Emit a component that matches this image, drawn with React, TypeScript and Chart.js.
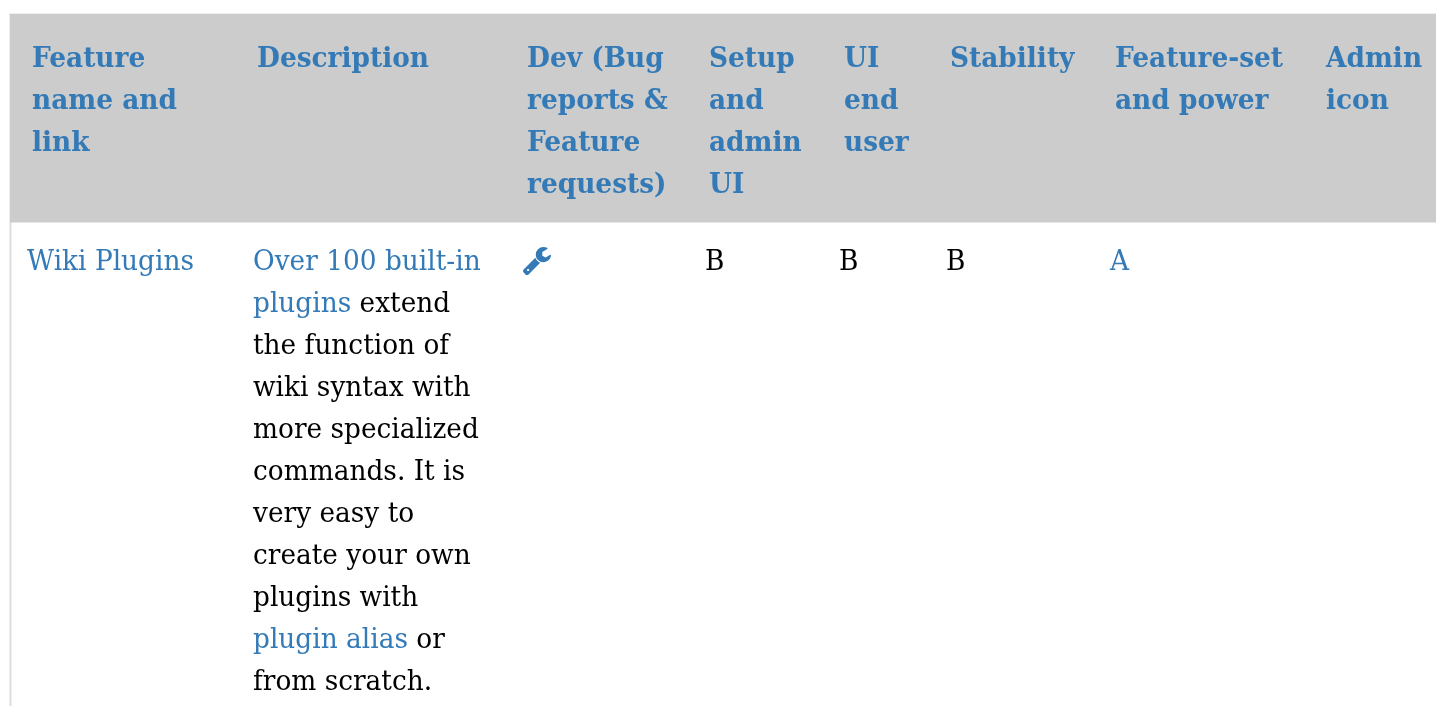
import React, { useEffect, useRef } from "react";
import { Chart, registerables } from "chart.js";

Chart.register(...registerables);

// ---- table content ----
const headerCells: string[][] = [
  ["Feature", "name and", "link"],
  ["Description"],
  ["Dev (Bug", "reports &", "Feature", "requests)"],
  ["Setup", "and", "admin", "UI"],
  ["UI", "end", "user"],
  ["Stability"],
  ["Feature-set", "and power"],
  ["Admin", "icon"],
];

type Run = [string, boolean]; // text, isLink
const featureLines: Run[][] = [[["Wiki Plugins", true]]];
const descriptionLines: Run[][] = [
  [["Over 100 built-in", true]],
  [["plugins", true], [" extend", false]],
  [["the function of", false]],
  [["wiki syntax with", false]],
  [["more specialized", false]],
  [["commands. It is", false]],
  [["very easy to", false]],
  [["create your own", false]],
  [["plugins with", false]],
  [["plugin alias", true], [" or", false]],
  [["from scratch.", false]],
];
const setupLines: Run[][] = [[["B", false]]];
const uiLines: Run[][] = [[["B", false]]];
const stabilityLines: Run[][] = [[["B", false]]];
const powerLines: Run[][] = [[["A", true]]];

// ---- styling / layout ----
const W = 1436;
const H = 706;
const LINK = "#337ab7";
const FONT = '"DejaVu Serif"';
const SIZE = 26.4;
const STRETCH_Y = 1.06;
const LINE = 42;
const headX = [32, 257, 527, 709, 844, 950, 1115, 1326];
const headBase = 66.5;
const bodyBase = 269.5;
const bodyColumns: [number, Run[][]][] = [
  [27, featureLines],
  [253, descriptionLines],
  [705, setupLines],
  [839, uiLines],
  [946, stabilityLines],
  [1110, powerLines],
];
const WRENCH =
  "M448 1472q0-26-19-45t-45-19-45 19-19 45 19 45 45 19 45-19 19-45zm644-420l-682 682q-37 37-90 37-52 0-91-37l-106-108q-38-36-38-90 0-53 38-91l681-681q39 98 114.5 173.5t173.5 114.5zm634-435q0 39-23 106-47 134-164.5 217.5t-258.5 83.5q-185 0-316.5-131.5t-131.5-316.5 131.5-316.5 316.5-131.5q58 0 121.5 16.5t107.5 46.5q16 11 16 28t-16 28l-293 169v224l193 107q5-3 79-48.5t135.5-81 70.5-35.5q15 0 23.5 10t8.5 25z";

function drawText(ctx: CanvasRenderingContext2D, t: string, x: number, y: number) {
  ctx.save();
  ctx.translate(x, y);
  ctx.scale(1, STRETCH_Y);
  ctx.fillText(t, 0, 0);
  ctx.restore();
}

const tablePlugin = {
  id: "tablePlugin",
  afterDraw(chart: any) {
    const { ctx } = chart;
    const X = (v: number) => chart.scales.x.getPixelForValue(v);
    const Y = (v: number) => chart.scales.y.getPixelForValue(v);
    ctx.save();
    ctx.fillStyle = "#ffffff";
    ctx.fillRect(X(0), Y(0), W, H);
    // outer table borders
    ctx.fillStyle = "#dddddd";
    ctx.fillRect(X(9.5), Y(222), 2, H - 222);
    ctx.fillStyle = "#eeeeee";
    ctx.fillRect(X(9), Y(13), W - 9, 1);
    ctx.fillRect(X(9), Y(13), 1, 209);
    // header band
    ctx.fillStyle = "#cccccc";
    ctx.fillRect(X(10), Y(14), W - 10, 208.5);

    ctx.textBaseline = "alphabetic";
    ctx.fontKerning = "normal";
    ctx.filter = "blur(0.35px)";
    ctx.font = `bold ${SIZE}px ${FONT}`;
    ctx.fillStyle = LINK;
    headerCells.forEach((lines, c) =>
      lines.forEach((t, i) => drawText(ctx, t, X(headX[c]), Y(headBase + i * LINE)))
    );

    ctx.font = `${SIZE}px ${FONT}`;
    bodyColumns.forEach(([x0, lines]) =>
      lines.forEach((runs, i) => {
        let x = X(x0);
        runs.forEach(([t, link]) => {
          ctx.fillStyle = link ? LINK : "#000000";
          drawText(ctx, t, x, Y(bodyBase + i * LINE));
          x += ctx.measureText(t).width;
        });
      })
    );

    // wrench icon in the Dev column
    ctx.save();
    ctx.translate(X(521.55), Y(244.8));
    ctx.scale(28 / 1641, 28 / 1641);
    ctx.fillStyle = LINK;
    ctx.fill(new Path2D(WRENCH));
    ctx.restore();
    ctx.restore();
  },
};

export default function App() {
  const ref = useRef<HTMLCanvasElement | null>(null);
  useEffect(() => {
    document.body.style.margin = "0";
    const chart = new Chart(ref.current as HTMLCanvasElement, {
      type: "scatter",
      data: { datasets: [{ data: [] }] },
      options: {
        animation: false,
        responsive: false,
        layout: { padding: 0 },
        plugins: { legend: { display: false }, tooltip: { enabled: false } },
        scales: {
          x: { type: "linear", min: 0, max: W, display: false },
          y: { type: "linear", min: 0, max: H, reverse: true, display: false },
        },
      },
      plugins: [tablePlugin],
    });
    return () => chart.destroy();
  }, []);
  return (
    <div style={{ width: W, height: H, overflow: "hidden" }}>
      <canvas ref={ref} width={W} height={H} style={{ display: "block" }} />
    </div>
  );
}
